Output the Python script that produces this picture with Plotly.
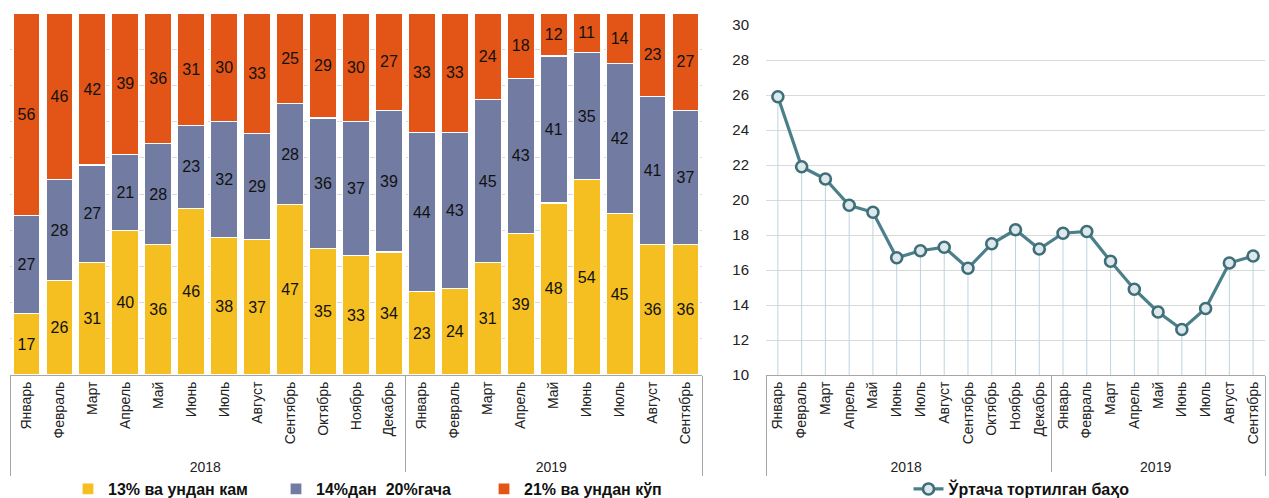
import plotly.graph_objects as go

years = ["2018"] * 12 + ["2019"] * 9
months = ["Январь", "Февраль", "Март", "Апрель", "Май", "Июнь", "Июль", "Август",
          "Сентябрь", "Октябрь", "Ноябрь", "Декабрь",
          "Январь", "Февраль", "Март", "Апрель", "Май", "Июнь", "Июль", "Август", "Сентябрь"]

low = [17, 26, 31, 40, 36, 46, 38, 37, 47, 35, 33, 34, 23, 24, 31, 39, 48, 54, 45, 36, 36]
mid = [27, 28, 27, 21, 28, 23, 32, 29, 28, 36, 37, 39, 44, 43, 45, 43, 41, 35, 42, 41, 37]
high = [56, 46, 42, 39, 36, 31, 30, 33, 25, 29, 30, 27, 33, 33, 24, 18, 12, 11, 14, 23, 27]

avg_rate = [25.9, 21.9, 21.2, 19.7, 19.3, 16.7, 17.1, 17.3, 16.1, 17.5, 18.3, 17.2,
            18.1, 18.2, 16.5, 14.9, 13.6, 12.6, 13.8, 16.4, 16.8]

names = ["13% ва ундан кам", "14%дан  20%гача", "21% ва ундан кўп"]
colors = ["#F5BF22", "#727CA2", "#E35516"]
line_name = "Ўртача тортилган баҳо"

FONT = "Liberation Sans Narrow, Arial Narrow, Liberation Sans, Arial"
x = [years, months]
n = len(months)

fig = go.Figure()
for vals, nm, col in zip([low, mid, high], names, colors):
    fig.add_trace(go.Bar(
        x=x, y=vals, name=nm, text=vals, textposition="inside",
        insidetextanchor="middle", textangle=0,
        textfont=dict(color="#111111", size=16, family="Liberation Sans, Arial"),
        marker=dict(color=col, line=dict(color="white", width=1.2)),
        xaxis="x", yaxis="y", legend="legend",
    ))

fig.add_trace(go.Scatter(
    x=x, y=avg_rate, name=line_name, mode="lines+markers",
    line=dict(color="#4B7F8A", width=3.2),
    marker=dict(size=11, color="#DCE8EB", line=dict(color="#3F6E78", width=2.6)),
    error_y=dict(type="data", symmetric=False, array=[0] * len(avg_rate),
                 arrayminus=[v - 10 for v in avg_rate], color="#BCD5DD",
                 thickness=1, width=0),
    xaxis="x2", yaxis="y2", legend="legend2",
))

axis_common = dict(
    type="multicategory", tickangle=-90, showline=True, linecolor="#A6A6A6",
    linewidth=1, ticks="", showdividers=True, dividercolor="#A6A6A6",
    dividerwidth=1, tickfont=dict(family=FONT, size=14, color="#222222"),
    showgrid=False, automargin=False, range=[-0.5, n - 0.5],
)

fig.update_layout(
    width=1269, height=498,
    margin=dict(l=0, r=0, t=13, b=123, autoexpand=False),
    paper_bgcolor="white", plot_bgcolor="white",
    barmode="stack", barnorm="percent", bargap=0.18,
    font=dict(family=FONT, size=14, color="#222222"),
    xaxis=dict(domain=[10 / 1269, 702 / 1269], anchor="y", **axis_common),
    yaxis=dict(range=[0, 100], showticklabels=False, showgrid=True,
               gridcolor="#D9D9D9", griddash="dash", dtick=10, zeroline=False,
               automargin=False),
    xaxis2=dict(domain=[766 / 1269, 1265 / 1269], anchor="y2", **axis_common),
    yaxis2=dict(domain=[0, 350 / 362], anchor="x2", range=[10, 30], dtick=2,
                showgrid=True, gridcolor="#D9D9D9", zeroline=False, ticks="",
                ticklabelstandoff=16, automargin=False,
                tickfont=dict(family=FONT, size=15, color="#222222")),
    legend=dict(orientation="h", x=68 / 1269, xanchor="left", y=-0.315,
                yanchor="middle", entrywidth=163, entrywidthmode="pixels",
                traceorder="normal",
                font=dict(family="Liberation Sans, Arial", size=16, weight="bold",
                          color="#111111")),
    legend2=dict(orientation="h", x=1022 / 1269, xanchor="center", y=-0.315,
                 yanchor="middle",
                 font=dict(family=FONT, size=16, weight="bold", color="#111111")),
    showlegend=True,
)

fig.write_html("out.html", config={"displayModeBar": False},
               post_script="document.body.style.margin='0';document.body.style.overflow='hidden';")
